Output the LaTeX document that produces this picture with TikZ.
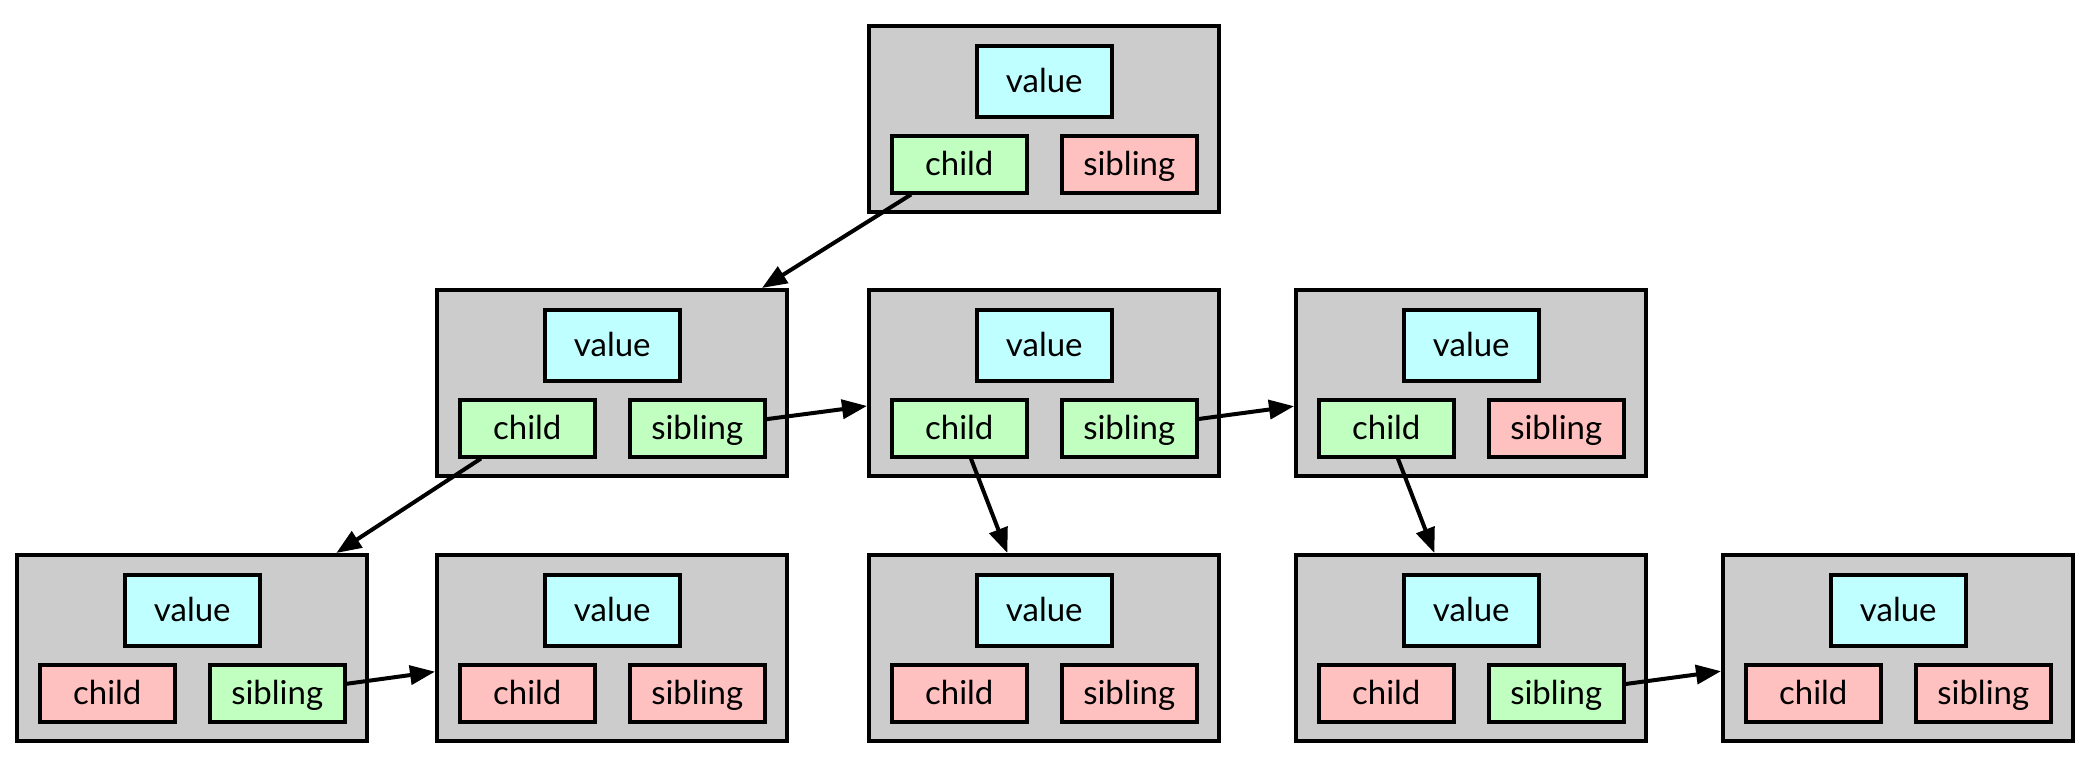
\documentclass[tikz,border=0pt]{standalone}
\usepackage{fontspec}
\setmainfont{Lato}
\usetikzlibrary{positioning, arrows.meta}

\definecolor{recgray}{HTML}{CCCCCC}
\definecolor{valcyan}{HTML}{C0FFFF}
\definecolor{livegreen}{HTML}{C0FFC0}
\definecolor{nilred}{HTML}{FFC0C0}

\tikzset{
	record/.style={draw, line width=3.5pt, fill=recgray, minimum width=350pt, minimum height=186pt, inner sep=0pt},
	field/.style={draw, line width=3.5pt, minimum width=135pt, minimum height=57pt, inner sep=0pt, text height=27pt, text depth=4pt, font=\fontsize{33}{38}\selectfont},
	valfield/.style={field, fill=valcyan, minimum height=71pt},
	live/.style={fill=livegreen},
	nil/.style={fill=nilred},
	link/.style={-{Triangle[length=25pt, width=19pt]}, line width=4pt}
}

\begin{document}
\begin{tikzpicture}[x=1pt, y=-1pt]

	\useasboundingbox (0,0) rectangle (2092,758);

	%Knoten
	\foreach \n/\x/\y/\c/\s in {r/867/24/live/nil, a/435/288/live/live, b/867/288/live/live, c/1294/288/live/nil, d/15/553/nil/live, e/435/553/nil/nil, f/867/553/nil/nil, g/1294/553/nil/live, h/1721/553/nil/nil}
	{
		\node [record, anchor=north west] (\n) at (\x, \y) {};
		\node [valfield, below right=20pt and 108pt of \n.north west] (\n-v) {value};
		\node [field, \c, below right=110pt and 23pt of \n.north west] (\n-c) {child};
		\node [field, \s, below right=110pt and 193pt of \n.north west] (\n-s) {sibling};
	}

	%Zeiger
	\draw [link] (r-c) -- (a);
	\draw [link] (a-c) -- (d);
	\draw [link] (a-s) -- (b);
	\draw [link] (b-c) -- (f);
	\draw [link] (b-s) -- (c);
	\draw [link] (c-c) -- (g);
	\draw [link] (d-s) -- (e);
	\draw [link] (g-s) -- (h);

\end{tikzpicture}
\end{document}
